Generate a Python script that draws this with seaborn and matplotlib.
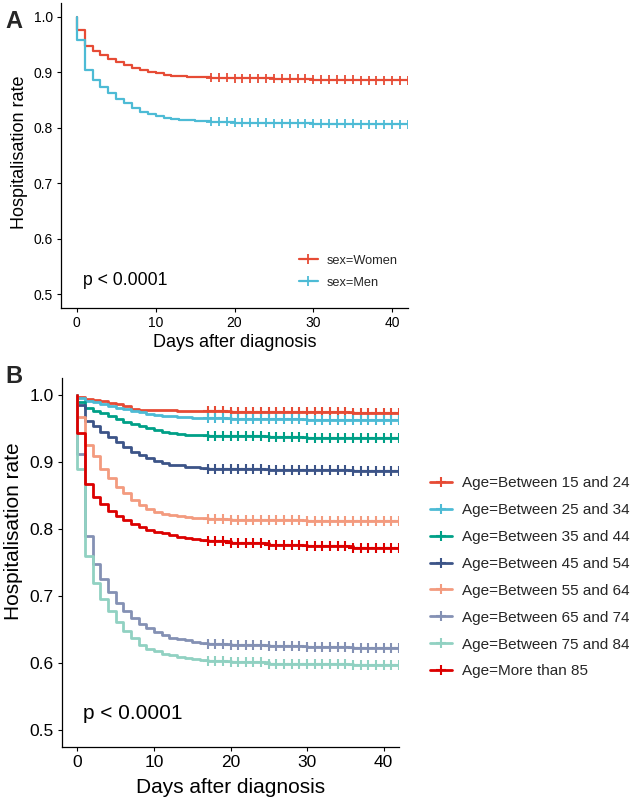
import numpy as np
import pandas as pd
import matplotlib
matplotlib.use("Agg")
import matplotlib.pyplot as plt
from matplotlib.lines import Line2D
import seaborn as sns

# ---------------- data ----------------
days = list(range(0, 18)) + [20, 25, 30, 36]
censor_days = list(range(17, 43))

sex_groups = ["sex=Women", "sex=Men"]
sex_colors = ["#E64B35", "#4DBBD5"]
women = [0.977, 0.948, 0.938, 0.931, 0.924, 0.918, 0.913, 0.908, 0.904, 0.900, 0.898,
         0.896, 0.894, 0.893, 0.892, 0.8915, 0.891, 0.890, 0.889, 0.888, 0.887, 0.886]
men = [0.958, 0.905, 0.887, 0.874, 0.862, 0.852, 0.844, 0.835, 0.829, 0.824, 0.821,
       0.818, 0.816, 0.8145, 0.8135, 0.8125, 0.812, 0.811, 0.809, 0.808, 0.807, 0.806]

age_groups = ["Age=Between 15 and 24", "Age=Between 25 and 34", "Age=Between 35 and 44",
              "Age=Between 45 and 54", "Age=Between 55 and 64", "Age=Between 65 and 74",
              "Age=Between 75 and 84", "Age=More than 85"]
age_colors = ["#E64B35", "#4DBBD5", "#00A087", "#3C5488", "#F39B7F", "#8491B4", "#91D1C2", "#DC0000"]
age_15_24 = [0.996, 0.994, 0.992, 0.990, 0.988, 0.986, 0.984, 0.979, 0.978, 0.978, 0.9775,
             0.977, 0.977, 0.9765, 0.9765, 0.976, 0.976, 0.976, 0.975, 0.9745, 0.974, 0.9735]
age_25_34 = [0.9945, 0.991, 0.9885, 0.986, 0.9835, 0.981, 0.9785, 0.976, 0.974, 0.972, 0.9705,
             0.969, 0.968, 0.967, 0.9665, 0.966, 0.9655, 0.965, 0.9645, 0.964, 0.963, 0.9625]
age_35_44 = [0.989, 0.980, 0.9765, 0.9725, 0.968, 0.964, 0.960, 0.9566, 0.953, 0.950, 0.947,
             0.945, 0.943, 0.9415, 0.9405, 0.940, 0.9395, 0.939, 0.938, 0.937, 0.936, 0.935]
age_45_54 = [0.985, 0.9606, 0.953, 0.945, 0.9366, 0.929, 0.922, 0.915, 0.910, 0.9057, 0.9017,
             0.8987, 0.896, 0.8947, 0.893, 0.892, 0.891, 0.890, 0.889, 0.888, 0.8875, 0.887]
age_55_64 = [0.9666, 0.925, 0.908, 0.890, 0.876, 0.863, 0.853, 0.843, 0.836, 0.830, 0.826,
             0.823, 0.8215, 0.8195, 0.818, 0.817, 0.816, 0.815, 0.814, 0.813, 0.8125, 0.812]
age_65_74 = [0.912, 0.790, 0.748, 0.725, 0.706, 0.690, 0.677, 0.667, 0.658, 0.652, 0.647,
             0.642, 0.638, 0.636, 0.634, 0.632, 0.630, 0.629, 0.627, 0.625, 0.6235, 0.6225]
age_75_84 = [0.890, 0.760, 0.720, 0.695, 0.678, 0.661, 0.648, 0.637, 0.627, 0.6215, 0.6175,
             0.614, 0.6115, 0.609, 0.6075, 0.606, 0.604, 0.603, 0.601, 0.599, 0.598, 0.5975]
age_85_plus = [0.943, 0.867, 0.847, 0.837, 0.827, 0.819, 0.813, 0.808, 0.803, 0.799, 0.796,
               0.7934, 0.791, 0.7885, 0.7865, 0.785, 0.7835, 0.782, 0.779, 0.776, 0.774, 0.772]

sex_series = [women, men]
age_series = [age_15_24, age_25_34, age_35_44, age_45_54, age_55_64, age_65_74, age_75_84, age_85_plus]

y_ticks = [0.5, 0.6, 0.7, 0.8, 0.9, 1.0]
x_ticks = [0, 10, 20, 30, 40]
x_end = 42
p_text = "p < 0.0001"


def build_frames(groups, series):
    rows, cens = [], []
    for g, vals in zip(groups, series):
        xs = [0] + days + [x_end]
        ys = [1.0] + list(vals) + [vals[-1]]
        for x, y in zip(xs, ys):
            rows.append((g, x, y))
        for c in censor_days:
            idx = max(i for i, d in enumerate(days) if d <= c)
            cens.append((g, c, vals[idx]))
    return (pd.DataFrame(rows, columns=["group", "day", "surv"]),
            pd.DataFrame(cens, columns=["group", "day", "surv"]))


sns.set_theme(style="ticks")
plt.rcParams['font.family'] = ['Liberation Sans', 'DejaVu Sans']

fig = plt.figure(figsize=(6.34, 8.02), dpi=100)
W, H = 634, 802
axA = fig.add_axes([61 / W, 1 - 308 / H, (408 - 61) / W, (308 - 3) / H])
axB = fig.add_axes([62 / W, 1 - 747 / H, (399 - 62) / W, (747 - 378) / H])


def draw(ax, groups, series, colors, lw, ms, mlw, tick_fs, lab_fs, p_fs):
    df, cdf = build_frames(groups, series)
    pal = dict(zip(groups, colors))
    sns.lineplot(data=df, x="day", y="surv", hue="group", hue_order=groups, palette=pal,
                 estimator=None, sort=False, drawstyle="steps-post", linewidth=lw,
                 legend=False, ax=ax)
    sns.scatterplot(data=cdf, x="day", y="surv", hue="group", hue_order=groups, palette=pal,
                    marker="+", s=ms, linewidth=mlw, legend=False, ax=ax, zorder=3)
    ax.set_xlim(-2, 42)
    ax.set_ylim(0.475, 1.025)
    ax.set_xticks(x_ticks)
    ax.set_yticks(y_ticks)
    ax.set_yticklabels([f"{v:.1f}" for v in y_ticks])
    ax.tick_params(labelsize=tick_fs, length=3, width=0.8, color="black", labelcolor="black", pad=3)
    for s in ["top", "right"]:
        ax.spines[s].set_visible(False)
    for s in ["left", "bottom"]:
        ax.spines[s].set_color("black")
        ax.spines[s].set_linewidth(0.9)
    ax.set_xlabel("Days after diagnosis", fontsize=lab_fs, color="black")
    ax.set_ylabel("Hospitalisation rate", fontsize=lab_fs, color="black")
    ax.text(0.78, 0.516, p_text, fontsize=p_fs, ha="left", va="baseline", color="black")
    handles = [Line2D([0], [0], color=c, lw=lw, marker="+", markersize=np.sqrt(ms), markeredgewidth=mlw)
               for c in colors]
    return handles


hA = draw(axA, sex_groups, sex_series, sex_colors, 1.6, 42, 1.3, 10, 13, 12.7)
hB = draw(axB, age_groups, age_series, age_colors, 2.0, 52, 1.5, 12.5, 15, 15)

axA.xaxis.set_label_coords(0.5, -0.085)
axA.yaxis.set_label_coords(-0.095, 0.51)
axB.xaxis.set_label_coords(0.5, -0.085)
axB.yaxis.set_label_coords(-0.115, 0.585)

legA = axA.legend(hA, sex_groups, loc="upper left", bbox_to_anchor=(299 / W, 1 - 254.5 / H),
                  bbox_transform=fig.transFigure, frameon=False, fontsize=9.2,
                  handlelength=1.45, handletextpad=0.7, labelspacing=0.8, borderpad=0, borderaxespad=0)
legB = axB.legend(hB, age_groups, loc="upper left", bbox_to_anchor=(430 / W, 1 - 476.5 / H),
                  bbox_transform=fig.transFigure, frameon=False, fontsize=11,
                  handlelength=1.45, handletextpad=0.65, labelspacing=0.84, borderpad=0, borderaxespad=0)

fig.text(5 / W, 1 - 28 / H, "A", fontsize=17, fontweight="bold", ha="left", va="baseline")
fig.text(5 / W, 1 - 383 / H, "B", fontsize=17, fontweight="bold", ha="left", va="baseline")

fig.savefig("out.png", dpi=100)
